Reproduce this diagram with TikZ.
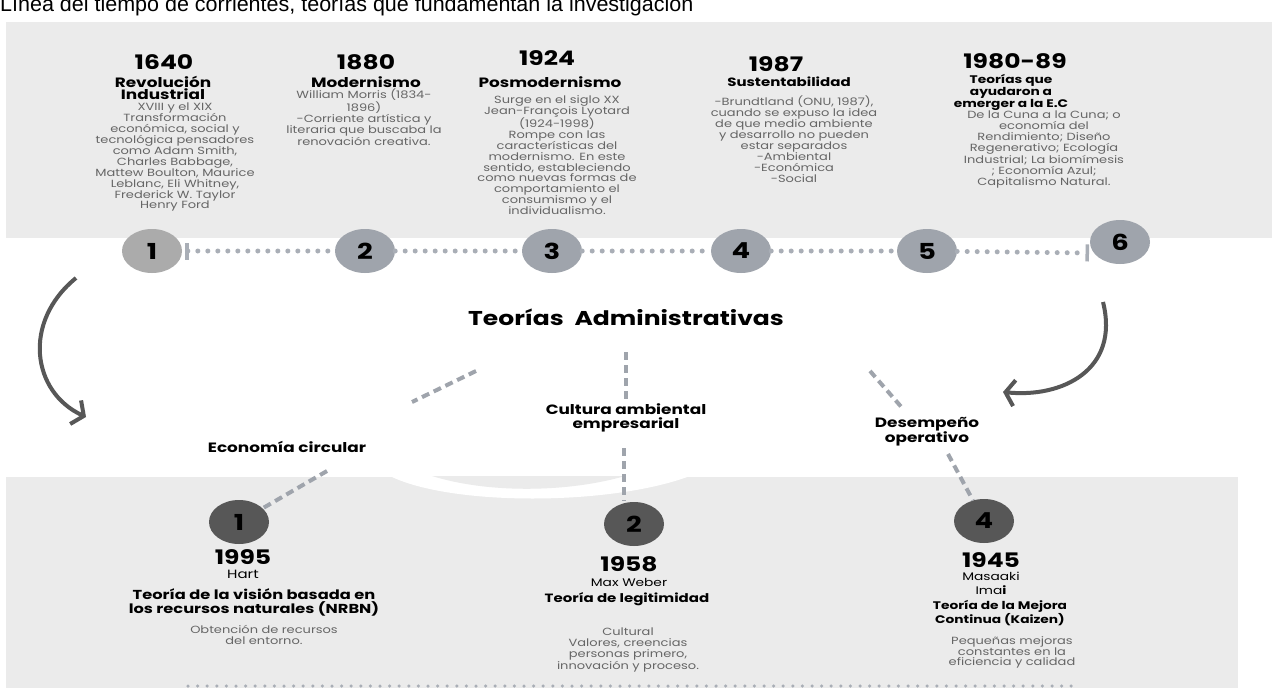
\documentclass[tikz,border=0pt]{standalone}
\usepackage{fontspec}
\setmainfont{Poppins}[FakeStretch=1.25]
\newfontfamily\titlefont{Liberation Sans}
\usetikzlibrary{positioning,arrows.meta,calc,shapes.geometric}

\definecolor{panelgray}{HTML}{EBEBEB}
\definecolor{circgray}{HTML}{9FA4AC}
\definecolor{firstgray}{HTML}{ABABAB}
\definecolor{dotgray}{HTML}{A9AEB6}
\definecolor{darkcirc}{HTML}{575757}
\definecolor{bodygray}{HTML}{666666}

\tikzset{
  yearlbl/.style={font=\fontsize{20}{20}\selectfont\bfseries, inner sep=0pt},
  headlbl/.style={font=\fontsize{13.5}{13}\selectfont\bfseries, align=center, inner sep=0pt, anchor=north},
  smallhead/.style={font=\fontsize{11}{11}\selectfont\bfseries, align=center, inner sep=0pt, anchor=north},
  bodytxt/.style={font=\fontsize{10.4}{10.9}\selectfont, text=bodygray, align=center, inner sep=0pt, anchor=north},
  tlcirc/.style={ellipse, fill=circgray, minimum width=60pt, minimum height=44pt, inner sep=0pt,
    font=\fontsize{22}{22}\selectfont\bfseries},
  btcirc/.style={tlcirc, fill=darkcirc},
  tldots/.style={dotgray, line width=5pt, line cap=round, dash pattern=on 0pt off 10pt},
  dashlink/.style={circgray, line width=4pt, dash pattern=on 8pt off 5pt},
  curvearrow/.style={darkcirc, line width=4pt, -{Straight Barb[length=9pt,width=26pt]}},
  midlbl/.style={font=\fontsize{13.5}{14}\selectfont\bfseries, align=center, inner sep=0pt}
}

\begin{document}
\begin{tikzpicture}[x=1pt,y=-1pt]
\useasboundingbox[fill=white] (0,0) rectangle (1279,688);

\node[anchor=base west, inner sep=0pt, font=\titlefont\fontsize{21.5}{21.5}\selectfont] (ttl) at (0,12)
  {Línea del tiempo de corrientes, teorías que fundamentan la investigación};

% panels
\fill[panelgray] (6,22) rectangle (1272,238);
\fill[panelgray] (6,477) rectangle (1238,688);
\fill[white] (390,476) .. controls (450,506) and (610,506) .. (690,476) -- cycle;
\fill[panelgray] (432,476) .. controls (490,494) and (570,492) .. (625,476) -- cycle;

% timeline
\node[tlcirc, fill=firstgray] (c1) at (152,251) {1};
\node[tlcirc] (c2) at (365,251) {2};
\node[tlcirc] (c3) at (552,251) {3};
\node[tlcirc] (c4) at (741,251) {4};
\node[tlcirc] (c5) at (927,251) {5};
\node[tlcirc] (c6) at (1120,242) {6};
\coordinate (t6) at (1089,253);

\draw[tldots, {Bar[width=17pt,line width=3.5pt]}-, shorten <=3pt] (c1) -- (c2);
\draw[tldots] (c2) -- (c3);
\draw[tldots] (c3) -- (c4);
\draw[tldots] (c4) -- (c5);
\draw[tldots, -{Bar[width=17pt,line width=3.5pt]}] (c5) -- (t6);

% column 1
\node[yearlbl] (y1) at ($(c1)+(12,-189)$) {1640};
\node[headlbl] (h1) at ($(c1)+(11,-175)$) {Revolución\\[-1pt]Industrial};
\node[bodytxt] (b1) at ($(c1)+(23,-148)$) {XVIII y el XIX\\Transformación\\económica, social y\\tecnológica pensadores\\como Adam Smith,\\Charles Babbage,\\Mattew Boulton, Maurice\\Leblanc, Eli Whitney,\\Frederick W. Taylor\\Henry Ford};

% column 2
\node[yearlbl] (y2) at ($(c2)+(1,-189)$) {1880};
\node[headlbl] (h2) at ($(c2)+(1,-175)$) {Modernismo};
\node[bodytxt] (b2) at ($(c2)+(-1,-162)$) {William Morris (1834-\\1896)\\-Corriente artística y\\literaria que buscaba la\\renovación creativa.};

% column 3
\node[yearlbl] (y3) at ($(c3)+(-5,-193)$) {1924};
\node[headlbl] (h3) at ($(c3)+(-2,-175)$) {Posmodernismo};
\node[bodytxt] (b3) at ($(c3)+(5,-156)$) {Surge en el siglo XX\\Jean-François Lyotard\\(1924-1998)\\Rompe con las\\características del\\modernismo. En este\\sentido, estableciendo\\como nuevas formas de\\comportamiento el\\consumismo y el\\individualismo.};

% column 4
\node[yearlbl] (y4) at ($(c4)+(35,-187)$) {1987};
\node[headlbl, font=\fontsize{12}{12}\selectfont\bfseries] (h4) at ($(c4)+(48,-174)$) {Sustentabilidad};
\node[bodytxt] (b4) at ($(c4)+(53,-155)$) {-Brundtland (ONU, 1987),\\cuando se expuso la idea\\de que medio ambiente\\y desarrollo no pueden\\estar separados\\-Ambiental\\-Económica\\-Social};

% column 5
\node[yearlbl] (y5) at ($(c5)+(88,-190)$) {1980-89};
\node[smallhead] (h5) at ($(c5)+(84,-177)$) {Teorías que\\ayudaron a\\emerger a la E.C};
\node[bodytxt] (b5) at ($(c5)+(117,-140)$) {De la Cuna a la Cuna; o\\economía del\\Rendimiento; Diseño\\Regenerativo; Ecología\\Industrial; La biomímesis\\; Economía Azul;\\Capitalismo Natural.};

% curved arrows
\draw[curvearrow] (76,278) .. controls (22,322) and (32,392) .. (86,417);
\draw[curvearrow] (1103,302) .. controls (1120,370) and (1062,398) .. (1003,392);

% middle
\node[font=\fontsize{20}{20}\selectfont\bfseries, inner sep=0pt] (ta) at (626,317) {Teorías\ \ Administrativas};
\node[midlbl] (ec) at (287,447) {Economía circular};
\node[midlbl] (ca) at (626,418) {Cultura ambiental\\empresarial};
\node[midlbl] (dop) at (927,432) {Desempeño\\operativo};

% bottom circles
\node[btcirc] (n1) at (239,522) {1};
\node[btcirc] (n2) at (634,524) {2};
\node[btcirc] (n4) at (984,521) {4};

% dashed links
\coordinate (d1a) at (476,371); \coordinate (d1b) at (412,402);
\coordinate (d2a) at (626,352); \coordinate (d2b) at (626,402);
\coordinate (d3a) at (870,371); \coordinate (d3b) at (904,410);
\coordinate (d4a) at (327,471); \coordinate (d5a) at (624,448); \coordinate (d5b) at (624,501);
\coordinate (d6a) at (948,454);
\draw[dashlink] (d1a) -- (d1b);
\draw[dashlink] (d2a) -- (d2b);
\draw[dashlink] (d3a) -- (d3b);
\draw[dashlink] (d4a) -- (n1);
\draw[dashlink] (d5a) -- (d5b);
\draw[dashlink] (d6a) -- (n4);

% bottom texts
\node[yearlbl] (y6) at ($(n1)+(4,35)$) {1995};
\node[bodytxt, text=black, font=\fontsize{12}{12}\selectfont] (a6) at ($(n1)+(4,48)$) {Hart};
\node[headlbl, font=\fontsize{13}{14}\selectfont\bfseries] (h6) at ($(n1)+(15,66)$) {Teoría de la visión basada en\\los recursos naturales (NRBN)};
\node[bodytxt, font=\fontsize{10.4}{11.5}\selectfont] (b6) at ($(n1)+(25,103)$) {Obtención de recursos\\del entorno.};

\node[yearlbl] (y7) at ($(n2)+(-5,40)$) {1958};
\node[bodytxt, text=black, font=\fontsize{11}{12}\selectfont] (a7) at ($(n2)+(-5,54)$) {Max Weber};
\node[headlbl, font=\fontsize{12}{13}\selectfont\bfseries] (h7) at ($(n2)+(-7,68)$) {Teoría de legitimidad};
\node[bodytxt] (b7) at ($(n2)+(-6,104)$) {Cultural\\Valores, creencias\\personas primero,\\innovación y proceso.};

\node[yearlbl] (y8) at ($(n4)+(7,39)$) {1945};
\node[bodytxt, text=black, font=\fontsize{11}{13.5}\selectfont] (a8) at ($(n4)+(7,51)$) {Masaaki\\Ima\textbf{i}};
\node[headlbl, font=\fontsize{11}{11.5}\selectfont\bfseries] (h8) at ($(n4)+(16,79)$) {Teoría de la Mejora\\Continua (Kaizen)};
\node[bodytxt] (b8) at ($(n4)+(28,115)$) {Pequeñas mejoras\\constantes en la\\eficiencia y calidad};

\coordinate (bl0) at (188,686); \coordinate (bl1) at (1075,686);
\draw[tldots, line width=3.5pt, dash pattern=on 0pt off 9.6pt] (bl0) -- (bl1);
\end{tikzpicture}
\end{document}
